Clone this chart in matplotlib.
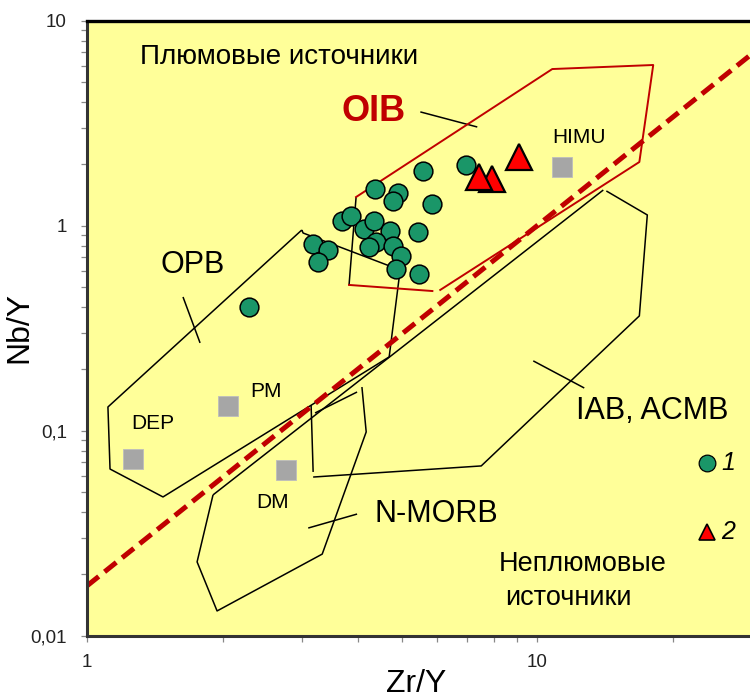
import matplotlib
matplotlib.use("Agg")
import matplotlib.pyplot as plt
from matplotlib.ticker import FixedLocator, FixedFormatter, LogLocator, NullFormatter

plt.rcParams['font.family'] = ['Liberation Sans', 'DejaVu Sans']

# samples (Zr/Y, Nb/Y)
group1_zr = [2.29, 3.17, 3.43, 3.26, 3.69, 3.86, 4.12, 4.33, 4.37, 4.90, 4.79,
             5.59, 5.85, 6.94, 4.70, 5.43, 4.38, 4.23, 4.78, 4.99, 4.86, 5.45]
group1_nb = [0.401, 0.814, 0.761, 0.668, 1.058, 1.115, 0.960, 1.054, 1.51, 1.44, 1.32,
             1.855, 1.276, 1.977, 0.942, 0.932, 0.835, 0.785, 0.796, 0.714, 0.613, 0.579]
group2_zr = [9.12, 7.93, 7.44]
group2_nb = [2.163, 1.69, 1.728]

# mantle end-members
ref_names = ['HIMU', 'PM', 'DEP', 'DM']
ref_zr = [11.35, 2.06, 1.266, 2.77]
ref_nb = [1.933, 0.1315, 0.0725, 0.0643]

# Delta Nb = 0 line
delta_zr = [1.0, 30.0]
delta_nb = [0.0175, 6.9]

# field boundaries
opb_zr = [3.00, 1.113, 1.125, 1.475, 4.69, 4.96, 3.02]
opb_nb = [0.953, 0.1305, 0.0650, 0.0475, 0.229, 0.608, 0.921]
opb_tick_zr = [1.634, 1.783]
opb_tick_nb = [0.449, 0.268]

oib_zr = [6.09, 16.86, 18.10, 10.80, 3.96]
oib_nb = [0.486, 2.045, 6.08, 5.81, 1.38]
oib_base_zr = [3.82, 5.85]
oib_base_nb = [0.514, 0.480]
oib_side_zr = [3.96, 3.82]
oib_side_nb = [1.38, 0.514]
oib_tick_zr = [5.50, 7.36]
oib_tick_nb = [3.59, 3.03]

iab_side_zr = [3.146, 3.179]
iab_side_nb = [0.1334, 0.0629]
iab_zr = [3.179, 7.51, 16.86, 17.56, 14.24]
iab_nb = [0.0594, 0.0673, 0.363, 1.128, 1.477]
iab_top_zr = [1.905, 14.02]
iab_top_nb = [0.0486, 1.493]
iab_tick_zr = [9.80, 12.72]
iab_tick_nb = [0.219, 0.1615]

short_zr = [3.21, 3.98]
short_nb = [0.122, 0.1544]

morb_zr = [4.08, 4.17, 3.33, 1.945, 1.756, 1.905]
morb_nb = [0.1633, 0.0986, 0.0250, 0.0132, 0.0229, 0.0486]
morb_tick_zr = [3.10, 3.98]
morb_tick_nb = [0.0335, 0.0392]

fig = plt.figure(figsize=(7.5, 6.97), dpi=100)
ax = fig.add_axes([0.116, 0.088, 0.8867, 0.8823])
ax.set_facecolor('#FFFF99')
ax.set_xscale('log')
ax.set_yscale('log')
ax.set_xlim(1, 30)
ax.set_ylim(0.01, 10)

blk = dict(color='black', lw=1.1, solid_capstyle='butt')
red = dict(color='#C00000', lw=1.4)

ax.plot(opb_zr + opb_zr[:1], opb_nb + opb_nb[:1], **blk)
ax.plot(opb_tick_zr, opb_tick_nb, **blk)
ax.plot(iab_side_zr, iab_side_nb, **blk)
ax.plot(iab_zr, iab_nb, **blk)
ax.plot(iab_top_zr, iab_top_nb, **blk)
ax.plot(iab_tick_zr, iab_tick_nb, **blk)
ax.plot(short_zr, short_nb, **blk)
ax.plot(morb_zr, morb_nb, **blk)
ax.plot(morb_tick_zr, morb_tick_nb, **blk)
ax.plot(oib_side_zr, oib_side_nb, **blk)
ax.plot(oib_tick_zr, oib_tick_nb, **blk)
ax.plot(oib_zr, oib_nb, **red)
ax.plot(oib_base_zr, oib_base_nb, **red)

ax.plot(delta_zr, delta_nb, color='#C00000', lw=3.6, dashes=(3.0, 1.5))

ax.plot(ref_zr, ref_nb, 's', ms=15, mfc='#A6A6A6', mec='#BDBDBD', mew=0.6, ls='none')
ax.plot(group1_zr, group1_nb, 'o', ms=13.5, mfc='#1A9668', mec='black', mew=1.1, ls='none')
ax.plot(group2_zr, group2_nb, '^', ms=18.5, mfc='#FF0000', mec='black', mew=1.6, ls='none')

# legend markers
ax.plot([23.8], [0.0692], 'o', ms=12, mfc='#1A9668', mec='black', mew=0.9)
ax.plot([23.8], [0.0322], '^', ms=12, mfc='#FF0000', mec='black', mew=1.2)
ax.text(25.7, 0.0692, '1', fontsize=18, style='italic', ha='left', va='center')
ax.text(25.6, 0.0322, '2', fontsize=18, style='italic', ha='left', va='center')

# labels
ax.text(2.67, 6.65, 'Плюмовые источники', fontsize=20, ha='center', va='center')
ax.text(4.32, 3.59, 'OIB', fontsize=26, fontweight='bold', color='#C00000',
        ha='center', va='center')
ax.text(12.4, 2.69, 'HIMU', fontsize=15, ha='center', va='center')
ax.text(1.72, 0.643, 'OPB', fontsize=22, ha='center', va='center')
ax.text(2.50, 0.156, 'PM', fontsize=15, ha='center', va='center')
ax.text(1.40, 0.109, 'DEP', fontsize=15, ha='center', va='center')
ax.text(2.58, 0.0444, 'DM', fontsize=15, ha='center', va='center')
ax.text(18.0, 0.1248, 'IAB, ACMB', fontsize=22, ha='center', va='center')
ax.text(5.97, 0.0392, 'N-MORB', fontsize=22, ha='center', va='center')
ax.text(12.59, 0.0224, 'Неплюмовые', fontsize=19.5, ha='center', va='center')
ax.text(11.72, 0.01527, 'источники', fontsize=19.5, ha='center', va='center')

# axes styling
for side in ['left', 'bottom']:
    ax.spines[side].set_linewidth(2.2)
    ax.spines[side].set_color('#333333')
ax.spines['top'].set_linewidth(2.4)
ax.spines['top'].set_color('black')
ax.spines['right'].set_visible(False)

ax.yaxis.set_major_locator(FixedLocator([0.01, 0.1, 1, 10]))
ax.yaxis.set_major_formatter(FixedFormatter(['0,01', '0,1', '1', '10']))
ax.yaxis.set_minor_locator(LogLocator(base=10, subs=range(2, 10)))
ax.yaxis.set_minor_formatter(NullFormatter())
ax.xaxis.set_major_locator(FixedLocator([1, 10]))
ax.xaxis.set_major_formatter(FixedFormatter(['1', '10']))
ax.xaxis.set_minor_locator(LogLocator(base=10, subs=range(2, 10)))
ax.xaxis.set_minor_formatter(NullFormatter())

ax.tick_params(which='both', direction='out', length=4.5, width=0.9, color='#888888',
               labelsize=13.5, labelcolor='#222222')
ax.tick_params(axis='y', which='both', pad=10)
ax.tick_params(axis='x', which='both', pad=9)

fig.text(416 / 750, 0.040, 'Zr/Y', fontsize=23, ha='center', va='top')
fig.text(0.026, 0.53, 'Nb/Y', fontsize=23, rotation=90, ha='center', va='center')

fig.savefig('out.png', dpi=100)
